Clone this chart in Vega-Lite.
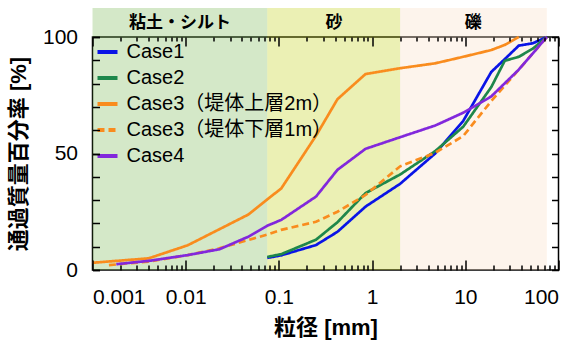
{
  "$schema": "https://vega.github.io/schema/vega-lite/v6.json",
  "width": 466,
  "height": 233,
  "autosize": {"type": "none"},
  "padding": {"left": 92.5, "top": 37, "right": 9.5, "bottom": 76},
  "config": {
    "view": {"stroke": "#000000", "strokeWidth": 1.5},
    "font": "Liberation Sans, Noto Sans CJK JP",
    "axis": {
      "grid": false,
      "domain": false,
      "tickColor": "#000000",
      "tickWidth": 1.5,
      "labelColor": "#000000",
      "labelFontSize": 21,
      "titleColor": "#000000",
      "titleFontSize": 22,
      "titleFontWeight": "bold"
    },
    "legend": {"labelFontSize": 20, "labelColor": "#000000", "labelLimit": 400}
  },
  "layer": [
    {
      "data": {"values": [{"band": "粘土・シルト", "x1": 0.001, "x2": 0.075}]},
      "mark": {"type": "rect", "opacity": 0.3, "color": "#70b248"},
      "encoding": {
        "x": {
          "field": "x1", "type": "quantitative",
          "scale": {"type": "log", "domain": [0.001, 100]},
          "axis": {"orient": "top", "zindex": 1, "offset": -9, "title": null, "labels": false, "values": [0.001, 0.01, 0.1, 1, 10, 100], "tickSize": 9}
        },
        "x2": {"field": "x2"},
        "y": {
          "datum": 0, "type": "quantitative",
          "scale": {"domain": [0, 100], "nice": false},
          "axis": {"orient": "right", "zindex": 1, "offset": -7, "title": null, "labels": false, "values": [0,10,20,30,40,50,60,70,80,90,100], "tickSize": 7}
        },
        "y2": {"datum": 112.4}
      }
    },
    {
      "data": {"values": [{"band": "砂", "x1": 0.075, "x2": 2}]},
      "mark": {"type": "rect", "opacity": 0.3, "color": "#bccd05"},
      "encoding": {
        "x": {
          "field": "x1", "type": "quantitative",
          "scale": {"type": "log", "domain": [0.001, 100]},
          "axis": {"orient": "top", "zindex": 1, "offset": -4, "title": null, "labels": false, "values": [0.002,0.003,0.004,0.005,0.006,0.007,0.008,0.009,0.02,0.03,0.04,0.05,0.06,0.07,0.08,0.09,0.2,0.3,0.4,0.5,0.6,0.7,0.8,0.9,2,3,4,5,6,7,8,9,20,30,40,50,60,70,80,90], "tickSize": 4}
        },
        "x2": {"field": "x2"},
        "y": {
          "datum": 0, "type": "quantitative",
          "scale": {"domain": [0, 100], "nice": false},
          "axis": {"orient": "left", "zindex": 1, "offset": -7, "title": null, "labels": false, "values": [0,10,20,30,40,50,60,70,80,90,100], "tickSize": 7}
        },
        "y2": {"datum": 112.4}
      }
    },
    {
      "data": {"values": [{"band": "礫", "x1": 2, "x2": 75}]},
      "mark": {"type": "rect", "opacity": 0.3, "color": "#f8dac0"},
      "encoding": {
        "x": {
          "field": "x1", "type": "quantitative",
          "scale": {"type": "log", "domain": [0.001, 100]},
          "axis": {"orient": "bottom", "zindex": 1, "offset": -5, "title": null, "labels": false, "values": [0.002,0.003,0.004,0.005,0.006,0.007,0.008,0.009,0.02,0.03,0.04,0.05,0.06,0.07,0.08,0.09,0.2,0.3,0.4,0.5,0.6,0.7,0.8,0.9,2,3,4,5,6,7,8,9,20,30,40,50,60,70,80,90], "tickSize": 5}
        },
        "x2": {"field": "x2"},
        "y": {"datum": 0, "type": "quantitative", "scale": {"domain": [0, 100], "nice": false}, "axis": null},
        "y2": {"datum": 112.4}
      }
    },
    {
      "data": {
        "values": [
          {"band": "粘土・シルト", "xm": 0.0087},
          {"band": "砂", "xm": 0.39},
          {"band": "礫", "xm": 12.2}
        ]
      },
      "mark": {"type": "text", "fontSize": 17, "fontWeight": "bold", "color": "#000000", "baseline": "middle"},
      "encoding": {
        "x": {"field": "xm", "type": "quantitative", "scale": {"type": "log", "domain": [0.001, 100]}, "axis": null},
        "y": {"datum": 106, "type": "quantitative", "scale": {"domain": [0, 100], "nice": false}, "axis": null},
        "text": {"field": "band"}
      }
    },
    {
      "data": {
        "values": [
          {"case": "Case1", "d": 0.075, "p": 5.2},
          {"case": "Case1", "d": 0.106, "p": 6.3},
          {"case": "Case1", "d": 0.25, "p": 10.7},
          {"case": "Case1", "d": 0.425, "p": 16.4},
          {"case": "Case1", "d": 0.85, "p": 27.2},
          {"case": "Case1", "d": 2, "p": 37},
          {"case": "Case1", "d": 4.75, "p": 50},
          {"case": "Case1", "d": 9.5, "p": 64},
          {"case": "Case1", "d": 19, "p": 85},
          {"case": "Case1", "d": 26.5, "p": 90.5},
          {"case": "Case1", "d": 37.5, "p": 96.3},
          {"case": "Case1", "d": 53, "p": 97.3},
          {"case": "Case1", "d": 75, "p": 100},
          {"case": "Case2", "d": 0.075, "p": 5.6},
          {"case": "Case2", "d": 0.106, "p": 6.8},
          {"case": "Case2", "d": 0.25, "p": 13},
          {"case": "Case2", "d": 0.425, "p": 20.5},
          {"case": "Case2", "d": 0.85, "p": 33},
          {"case": "Case2", "d": 2, "p": 41},
          {"case": "Case2", "d": 4.75, "p": 51},
          {"case": "Case2", "d": 9.5, "p": 61.5},
          {"case": "Case2", "d": 19, "p": 78.5},
          {"case": "Case2", "d": 26.5, "p": 89.8},
          {"case": "Case2", "d": 37.5, "p": 91.5},
          {"case": "Case2", "d": 53, "p": 95},
          {"case": "Case2", "d": 75, "p": 100},
          {"case": "Case3（堤体上層2m）", "d": 0.001, "p": 3.1},
          {"case": "Case3（堤体上層2m）", "d": 0.004, "p": 5},
          {"case": "Case3（堤体上層2m）", "d": 0.0105, "p": 10.6},
          {"case": "Case3（堤体上層2m）", "d": 0.023, "p": 17.5},
          {"case": "Case3（堤体上層2m）", "d": 0.047, "p": 23.8},
          {"case": "Case3（堤体上層2m）", "d": 0.075, "p": 30.3},
          {"case": "Case3（堤体上層2m）", "d": 0.106, "p": 35},
          {"case": "Case3（堤体上層2m）", "d": 0.25, "p": 57.6},
          {"case": "Case3（堤体上層2m）", "d": 0.425, "p": 73.3},
          {"case": "Case3（堤体上層2m）", "d": 0.85, "p": 84.1},
          {"case": "Case3（堤体上層2m）", "d": 2, "p": 86.6},
          {"case": "Case3（堤体上層2m）", "d": 4.75, "p": 88.7},
          {"case": "Case3（堤体上層2m）", "d": 9.5, "p": 91.5},
          {"case": "Case3（堤体上層2m）", "d": 19, "p": 94.4},
          {"case": "Case3（堤体上層2m）", "d": 26.5, "p": 96.6},
          {"case": "Case3（堤体上層2m）", "d": 37.5, "p": 100},
          {"case": "Case3（堤体下層1m）", "d": 0.0015, "p": 2.1},
          {"case": "Case3（堤体下層1m）", "d": 0.004, "p": 3.6},
          {"case": "Case3（堤体下層1m）", "d": 0.0105, "p": 6.4},
          {"case": "Case3（堤体下層1m）", "d": 0.023, "p": 9.3},
          {"case": "Case3（堤体下層1m）", "d": 0.047, "p": 12.9},
          {"case": "Case3（堤体下層1m）", "d": 0.075, "p": 15.2},
          {"case": "Case3（堤体下層1m）", "d": 0.106, "p": 17.2},
          {"case": "Case3（堤体下層1m）", "d": 0.25, "p": 20.7},
          {"case": "Case3（堤体下層1m）", "d": 0.425, "p": 25},
          {"case": "Case3（堤体下層1m）", "d": 0.85, "p": 32.2},
          {"case": "Case3（堤体下層1m）", "d": 2, "p": 44.5},
          {"case": "Case3（堤体下層1m）", "d": 4.75, "p": 50.3},
          {"case": "Case3（堤体下層1m）", "d": 9.5, "p": 57.5},
          {"case": "Case3（堤体下層1m）", "d": 19, "p": 72.5},
          {"case": "Case3（堤体下層1m）", "d": 37.5, "p": 86},
          {"case": "Case3（堤体下層1m）", "d": 75, "p": 100},
          {"case": "Case4", "d": 0.0018, "p": 2.5},
          {"case": "Case4", "d": 0.004, "p": 3.9},
          {"case": "Case4", "d": 0.0105, "p": 6.4},
          {"case": "Case4", "d": 0.023, "p": 8.9},
          {"case": "Case4", "d": 0.047, "p": 14.3},
          {"case": "Case4", "d": 0.075, "p": 19},
          {"case": "Case4", "d": 0.106, "p": 21.5},
          {"case": "Case4", "d": 0.25, "p": 31.5},
          {"case": "Case4", "d": 0.425, "p": 43},
          {"case": "Case4", "d": 0.85, "p": 52},
          {"case": "Case4", "d": 2, "p": 57},
          {"case": "Case4", "d": 4.75, "p": 62},
          {"case": "Case4", "d": 9.5, "p": 67.5},
          {"case": "Case4", "d": 19, "p": 74.5},
          {"case": "Case4", "d": 37.5, "p": 86},
          {"case": "Case4", "d": 75, "p": 100}
        ]
      },
      "mark": {"type": "line", "strokeWidth": 2.7},
      "encoding": {
        "x": {
          "field": "d",
          "type": "quantitative",
          "scale": {"type": "log", "domain": [0.001, 100]},
          "axis": {
            "orient": "bottom",
            "zindex": 1,
            "offset": -10,
            "title": "粒径 [mm]",
            "titlePadding": 10,
            "values": [0.001, 0.01, 0.1, 1, 10, 100],
            "labelPadding": 16,
            "tickSize": 10
          }
        },
        "y": {
          "field": "p",
          "type": "quantitative",
          "scale": {"domain": [0, 100], "nice": false},
          "axis": {
            "orient": "left",
            "zindex": 1,
            "offset": -7,
            "title": "通過質量百分率 [%]",
            "titlePadding": 12,
            "values": [0, 50, 100],
            "labelPadding": 15,
            "tickSize": 7
          }
        },
        "color": {
          "field": "case",
          "type": "nominal",
          "scale": {
            "domain": ["Case1", "Case2", "Case3（堤体上層2m）", "Case3（堤体下層1m）", "Case4"],
            "range": ["#0a14e6", "#1e874b", "#f98c1e", "#f98c1e", "#8228dc"]
          },
          "legend": {
            "orient": "top-left",
            "offset": 3,
            "title": null,
            "symbolType": "stroke",
            "symbolStrokeWidth": 4,
            "symbolSize": 400,
            "rowPadding": 4,
            "labelOffset": 7
          }
        },
        "strokeDash": {
          "field": "case",
          "type": "nominal",
          "scale": {
            "domain": ["Case1", "Case2", "Case3（堤体上層2m）", "Case3（堤体下層1m）", "Case4"],
            "range": [[1, 0], [1, 0], [1, 0], [7, 4], [1, 0]]
          }
        }
      }
    }
  ],
  "resolve": {"scale": {"x": "independent", "y": "independent"}}
}
